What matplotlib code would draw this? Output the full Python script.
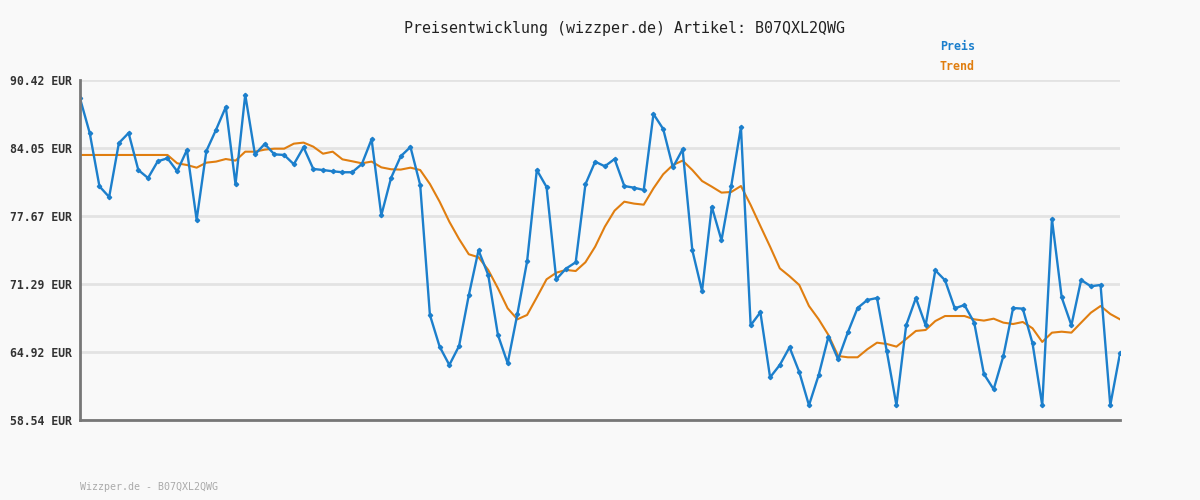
import numpy as np
import matplotlib
matplotlib.use("Agg")
import matplotlib.pyplot as plt

# price values (EUR), one per sample
preis = [88.70, 85.45, 80.45, 79.45, 84.51, 85.45, 81.98, 81.23, 82.80, 83.08,
         81.86, 83.86, 77.32, 83.76, 85.76, 87.89, 80.64, 89.04, 83.45, 84.42,
         83.45, 83.39, 82.52, 84.11, 82.08, 81.98, 81.86, 81.77, 81.77, 82.54,
         84.86, 77.73, 81.23, 83.27, 84.14, 80.58, 68.39, 65.42, 63.70, 65.48,
         70.23, 74.45, 72.14, 66.51, 63.86, 68.48, 73.42, 81.98, 80.39, 71.73,
         72.73, 73.33, 80.64, 82.76, 82.33, 83.01, 80.48, 80.32, 80.11, 87.23,
         85.83, 82.23, 83.92, 74.45, 70.64, 78.54, 75.39, 80.48, 86.01, 67.42,
         68.64, 62.54, 63.70, 65.36, 63.04, 59.92, 62.76, 66.35, 64.23, 66.76,
         69.04, 69.79, 69.98, 65.01, 59.92, 67.42, 69.98, 67.42, 72.57, 71.64,
         69.01, 69.32, 67.67, 62.85, 61.42, 64.54, 69.04, 68.98, 65.73, 59.92,
         77.36, 70.04, 67.42, 71.67, 71.08, 71.20, 59.92, 64.79]

trend = [83.39, 83.39, 83.39, 83.39, 83.39, 83.39, 83.39, 83.39, 83.39, 83.39,
         82.61, 82.45, 82.20, 82.67, 82.77, 83.01, 82.86, 83.70, 83.70, 83.89,
         83.98, 83.98, 84.45, 84.55, 84.17, 83.51, 83.70, 82.98, 82.80, 82.61,
         82.77, 82.23, 82.05, 82.02, 82.20, 81.98, 80.67, 79.01, 77.13, 75.51,
         74.08, 73.80, 72.61, 70.89, 69.01, 67.98, 68.39, 70.04, 71.73, 72.35,
         72.61, 72.51, 73.33, 74.79, 76.67, 78.17, 79.01, 78.83, 78.73, 80.26,
         81.58, 82.45, 82.86, 81.98, 80.95, 80.42, 79.86, 79.92, 80.48, 78.70,
         76.73, 74.79, 72.76, 72.02, 71.20, 69.23, 67.98, 66.51, 64.54, 64.42,
         64.42, 65.17, 65.79, 65.67, 65.42, 66.14, 66.89, 66.98, 67.82, 68.29,
         68.29, 68.29, 67.98, 67.86, 68.04, 67.67, 67.54, 67.73, 67.14, 65.86,
         66.73, 66.82, 66.73, 67.67, 68.60, 69.23, 68.48, 67.98]

yticks = [58.54, 64.92, 71.29, 77.67, 84.05, 90.42]
artikel = "B07QXL2QWG"

blue = "#1c7fcc"
orange = "#e07e10"
bg = "#f9f9f9"
mono = "DejaVu Sans Mono"

fig = plt.figure(figsize=(12, 5), dpi=100, facecolor=bg)
ax = fig.add_axes([80 / 1200, 80 / 500, 1040 / 1200, 340 / 500], facecolor=bg)

x = np.arange(len(preis))
ax.plot(x, trend, color=orange, lw=1.5, zorder=3)
ax.plot(x, preis, color=blue, lw=1.7, marker="D", markersize=2.2, zorder=4)

ax.set_xlim(0, len(preis) - 1)
ax.set_ylim(yticks[0], yticks[-1])
ax.set_yticks(yticks)
ax.set_yticklabels(["{:.2f} EUR".format(v) for v in yticks],
                   fontfamily=mono, fontweight="bold", fontsize=8.3, color="#333333")
ax.set_xticks([])
ax.tick_params(axis="y", length=0, pad=6)
ax.grid(axis="y", color="#e3e3e3", lw=2)
ax.set_axisbelow(True)

for s in ["top", "right"]:
    ax.spines[s].set_visible(False)
for s in ["left", "bottom"]:
    ax.spines[s].set_color("#777777")
    ax.spines[s].set_linewidth(2)
    ax.spines[s].set_zorder(5)

fig.text(624 / 1200, 1 - 28 / 500, "Preisentwicklung (wizzper.de) Artikel: " + artikel,
         ha="center", va="center", fontfamily=mono, fontsize=10.8, color="#222222")
fig.text(940 / 1200, 1 - 47 / 500, "Preis", ha="left", va="center",
         fontfamily=mono, fontweight="bold", fontsize=8.4, color=blue)
fig.text(940 / 1200, 1 - 67 / 500, "Trend", ha="left", va="center",
         fontfamily=mono, fontweight="bold", fontsize=8.4, color=orange)
fig.text(80 / 1200, 1 - 487 / 500, "Wizzper.de - " + artikel, ha="left", va="center",
         fontfamily=mono, fontsize=7.2, color="#aaaaaa")

fig.savefig("out.png", dpi=100, facecolor=bg)
